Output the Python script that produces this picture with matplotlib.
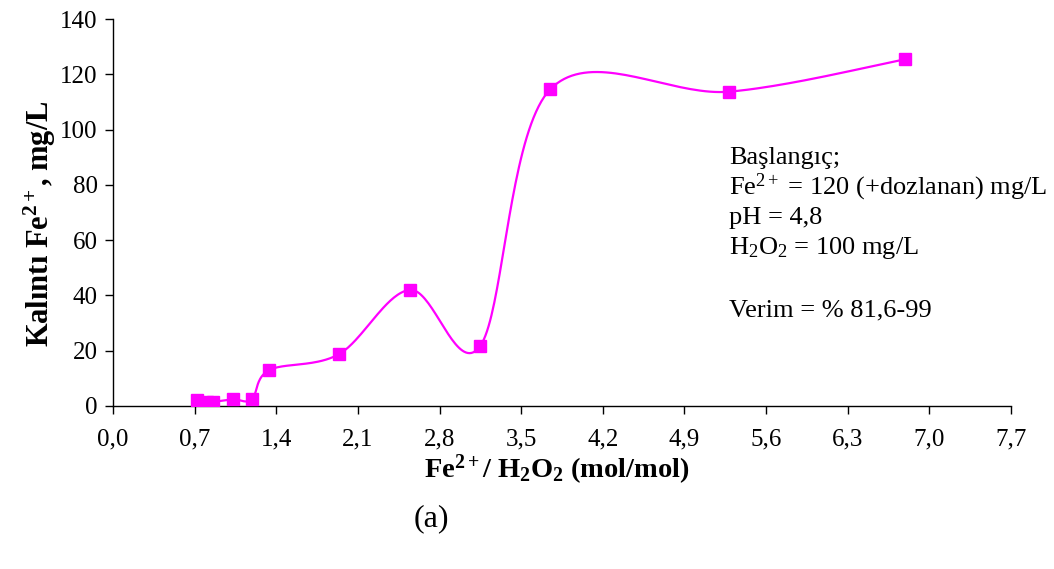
import numpy as np
import matplotlib
matplotlib.use("Agg")
import matplotlib.pyplot as plt

plt.rcParams['font.family'] = ['Liberation Serif', 'DejaVu Serif']
plt.rcParams['mathtext.fontset'] = 'custom'
plt.rcParams['mathtext.rm'] = 'Liberation Serif'
plt.rcParams['mathtext.it'] = 'Liberation Serif:italic'
plt.rcParams['mathtext.bf'] = 'Liberation Serif:bold'

ratio = [0.72, 0.81, 0.86, 1.03, 1.19, 1.34, 1.94, 2.55, 3.15, 3.75, 5.28, 6.79]
fe_residual = [2.2, 1.5, 1.5, 2.4, 2.4, 13.0, 18.8, 42.0, 21.8, 114.6, 113.7, 125.4]
xticks = [0.0, 0.7, 1.4, 2.1, 2.8, 3.5, 4.2, 4.9, 5.6, 6.3, 7.0, 7.7]
yticks = [0, 20, 40, 60, 80, 100, 120, 140]


def catmull_rom(xs, ys, n=40):
    p = np.column_stack([xs, ys]).astype(float)
    p = np.vstack([p[0], p, p[-1]])
    out = []
    for i in range(1, len(p) - 2):
        p0, p1, p2, p3 = p[i - 1], p[i], p[i + 1], p[i + 2]
        c1 = p1 + (p2 - p0) / 6.0
        c2 = p2 - (p3 - p1) / 6.0
        t = np.linspace(0, 1, n)[:, None]
        seg = ((1 - t) ** 3) * p1 + 3 * ((1 - t) ** 2) * t * c1 + 3 * (1 - t) * t ** 2 * c2 + t ** 3 * p2
        out.append(seg if i == 1 else seg[1:])
    s = np.vstack(out)
    return s[:, 0], s[:, 1]


fig = plt.figure(figsize=(10.54, 5.69), dpi=100)
ax = fig.add_axes([113 / 1054, 1 - 406 / 569, (1011 - 113) / 1054, (406 - 19) / 569])

sx, sy = catmull_rom(ratio, fe_residual)
ax.plot(sx, sy, color='#FF00FF', lw=1.6, zorder=2)
ax.plot(ratio, fe_residual, 's', color='#FF00FF', ms=9, zorder=3)

ax.set_xlim(0, 7.7)
ax.set_ylim(0, 140)
ax.set_xticks(xticks)
ax.set_xticklabels([f"{v:.1f}".replace('.', ',') for v in xticks])
ax.set_yticks(yticks)
ax.set_yticklabels([str(v) for v in yticks])
ax.tick_params(axis='both', labelsize=18, direction='out', length=6, width=1, colors='black')
ax.tick_params(axis='x', pad=10)
ax.tick_params(axis='y', pad=5)
for s in ['top', 'right']:
    ax.spines[s].set_visible(False)
for s in ['left', 'bottom']:
    ax.spines[s].set_linewidth(1)

fig.text(40 / 1054, 1 - 224 / 569, r'Kalıntı Fe$^{\mathbf{2+}}$, mg/L', rotation=90,
         ha='center', va='center', fontsize=22, fontweight='bold')
fig.text(557 / 1054, 1 - 470 / 569, r'Fe$^{\mathbf{2+}}$/ H$_{\mathbf{2}}$O$_{\mathbf{2}}$ (mol/mol)',
         ha='center', va='center', fontsize=20.5, fontweight='bold')
fig.text(431 / 1054, 1 - 519 / 569, '(a)', ha='center', va='center', fontsize=23)

lines = ['Başlangıç;',
         r'Fe$^{2+}$ = 120 (+dozlanan) mg/L',
         'pH = 4,8',
         r'H$_2$O$_2$ = 100 mg/L',
         '',
         'Verim = % 81,6-99']
ypix = [158, 187, 218, 248, 280, 310]
for t, yp in zip(lines, ypix):
    if t:
        fig.text(729 / 1054, 1 - yp / 569, t, ha='left', va='center', fontsize=19)

fig.savefig('out.png', dpi=100)
